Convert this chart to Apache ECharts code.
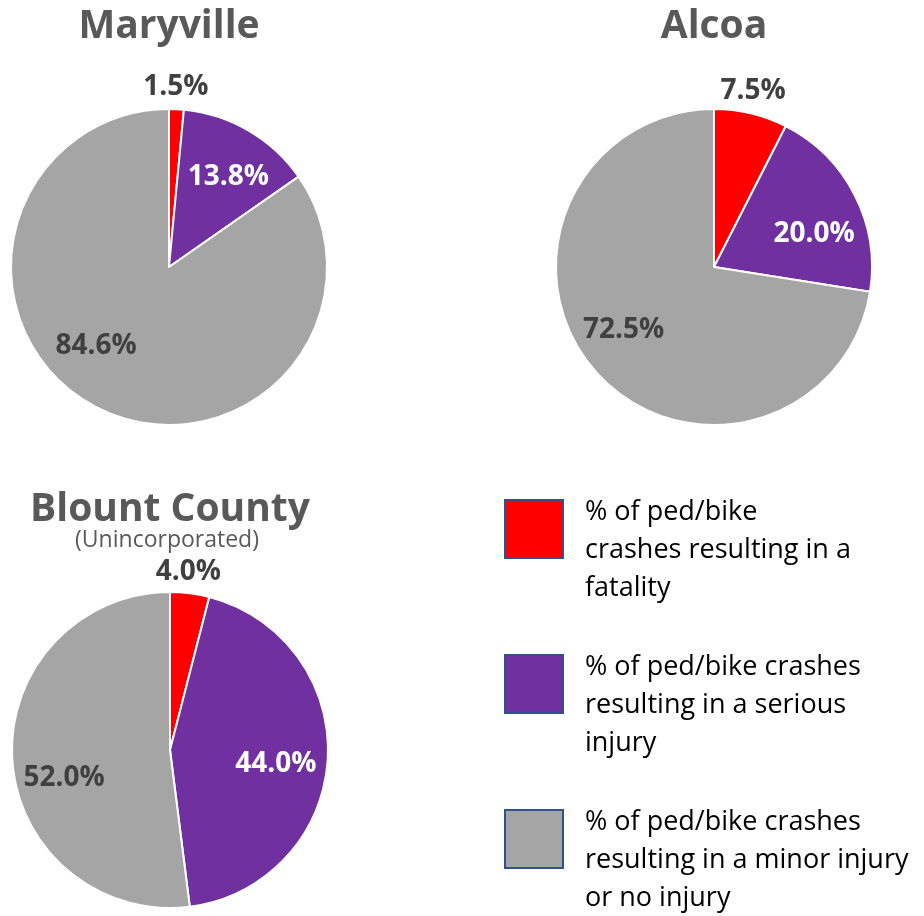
<!DOCTYPE html>
<html>
<head>
<meta charset="utf-8">
<script src="https://cdn.jsdelivr.net/npm/echarts@6/dist/echarts.min.js"></script>
<style>
html,body{margin:0;padding:0;background:#fff;}
#chart{width:924px;height:916px;}
</style>
</head>
<body>
<div id="chart"></div>
<script>
// ---- data ----
const categories = ['Fatality', 'Serious injury', 'Minor or no injury'];
const legendLabels = [
  '% of ped/bike\ncrashes resulting in a\nfatality',
  '% of ped/bike crashes\nresulting in a serious\ninjury',
  '% of ped/bike crashes\nresulting in a minor injury\nor no injury'
];
const places = ['Maryville', 'Alcoa', 'Blount County'];
const placeSubtitle = ['', '', '(Unincorporated)'];
const maryville = [1.5, 13.8, 84.6];
const alcoa = [7.5, 20.0, 72.5];
const blount = [4.0, 44.0, 52.0];
const allValues = [maryville, alcoa, blount];

// ---- styles / layout ----
const colors = ['#FF0000', '#7030A0', '#A5A5A5'];
const labelColors = ['#404040', '#FFFFFF', '#404040'];
const FONT = '"Open Sans", "Noto Sans", sans-serif';
const pieLayout = [
  {center: [169, 267], title: [169, 27]},
  {center: [714, 267], title: [714, 27]},
  {center: [170, 750], title: [170, 510], sub: [167, 540]}
];
const labelOffsets = [
  [[3, -98], [18, -19], [-35, 6]],
  [[20, -96], [27, 4], [-28, 10]],
  [[8, -97], [24, 9], [-24, 23]]
];

const series = allValues.map((vals, p) => ({
  type: 'pie',
  name: places[p],
  center: pieLayout[p].center,
  radius: 158,
  startAngle: 90,
  clockwise: true,
  avoidLabelOverlap: false,
  silent: true,
  animation: false,
  itemStyle: {borderColor: '#FFFFFF', borderWidth: 2},
  labelLine: {show: false},
  label: {
    show: true,
    position: 'inside',
    fontFamily: FONT,
    fontWeight: 'bold',
    fontSize: 28,
    formatter: (d) => d.value.toFixed(1) + '%'
  },
  data: vals.map((v, i) => ({
    name: categories[i],
    value: v,
    itemStyle: {color: colors[i]},
    label: {color: labelColors[i], offset: labelOffsets[p][i]}
  }))
}));

const graphics = [];
places.forEach((pl, p) => {
  graphics.push({
    type: 'text', x: pieLayout[p].title[0], y: pieLayout[p].title[1],
    style: {text: pl, fill: '#595959', font: 'bold 39px ' + FONT, align: 'center', verticalAlign: 'middle'}
  });
  if (placeSubtitle[p]) {
    graphics.push({
      type: 'text', x: pieLayout[p].sub[0], y: pieLayout[p].sub[1],
      style: {text: placeSubtitle[p], fill: '#595959', font: '23px ' + FONT, align: 'center', verticalAlign: 'middle'}
    });
  }
});
const legendTops = [500, 655, 810];
categories.forEach((c, i) => {
  graphics.push({
    type: 'rect', shape: {x: 505, y: legendTops[i], width: 58, height: 58},
    style: {fill: colors[i], stroke: '#2F528F', lineWidth: 2}
  });
  graphics.push({
    type: 'text', x: 585, y: legendTops[i] - 7,
    style: {text: legendLabels[i], fill: '#000000', font: '27px ' + FONT, lineHeight: 38, align: 'left', verticalAlign: 'top'}
  });
});

const chart = echarts.init(document.getElementById('chart'), null, {renderer: 'canvas'});
chart.setOption({
  animation: false,
  backgroundColor: '#FFFFFF',
  series: series,
  graphic: graphics
});
</script>
</body>
</html>
